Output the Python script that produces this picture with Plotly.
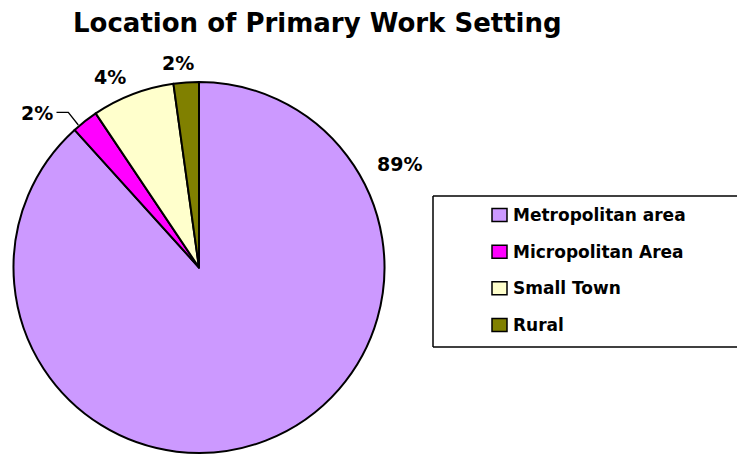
import plotly.graph_objects as go

# ---- data ----
categories = ["Metropolitan area", "Micropolitan Area", "Small Town", "Rural"]
slice_values = [88.3, 2.3, 7.2, 2.2]          # slice sizes as drawn
label_texts = ["89%", "2%", "4%", "2%"]        # percentage labels as printed
colors = ["#CC99FF", "#FF00FF", "#FFFFCC", "#808000"]
title_text = "Location of Primary Work Setting"

W, H = 737, 455
FONT = "DejaVu Sans"


def px(x):
    return x / W


def py(y):
    return 1 - y / H


fig = go.Figure()
fig.add_trace(go.Pie(
    labels=categories,
    values=slice_values,
    sort=False,
    direction="clockwise",
    rotation=0,
    marker=dict(colors=colors, line=dict(color="black", width=2)),
    textinfo="none",
    hoverinfo="label+percent",
    showlegend=False,
    domain=dict(x=[px(13.5), px(384.5)], y=[py(453), py(82)]),
))

annotations = []
shapes = []

# title
annotations.append(dict(text="<b>" + title_text + "</b>", x=px(317.5), y=py(23),
                        xref="paper", yref="paper", showarrow=False,
                        xanchor="center", yanchor="middle",
                        font=dict(family=FONT, size=26, color="black")))

# slice labels
label_pos = [(399, 164), (37, 113), (110, 77), (178, 63)]
for txt, (lx, ly) in zip(label_texts, label_pos):
    annotations.append(dict(text="<b>" + txt + "</b>", x=px(lx), y=py(ly),
                            xref="paper", yref="paper", showarrow=False,
                            xanchor="center", yanchor="middle",
                            font=dict(family=FONT, size=19, color="black")))

# leader line for the small Micropolitan label
shapes.append(dict(type="path", xref="paper", yref="paper",
                   path=f"M {px(56.5)} {py(112.3)} L {px(68.3)} {py(112.3)} L {px(78.3)} {py(125)}",
                   line=dict(color="black", width=1.3)))

# legend box (right edge runs off the picture): three separate sides
box_l, box_r, box_t, box_b = 433, 737, 196, 347
for x0, y0, x1, y1 in [(box_l, box_t, box_r, box_t),
                       (box_l, box_b, box_r, box_b),
                       (box_l, box_t, box_l, box_b)]:
    shapes.append(dict(type="line", xref="paper", yref="paper",
                       x0=px(x0), y0=py(y0), x1=px(x1), y1=py(y1),
                       line=dict(color="black", width=1.5)))
row_y = [215, 251.7, 288.3, 325]
for cat, col, ry in zip(categories, colors, row_y):
    shapes.append(dict(type="rect", xref="paper", yref="paper",
                       x0=px(492), x1=px(507), y0=py(ry + 6.5), y1=py(ry - 6.5),
                       line=dict(color="black", width=1.5), fillcolor=col))
    annotations.append(dict(text="<b>" + cat + "</b>", x=px(511), y=py(ry),
                            xref="paper", yref="paper", showarrow=False,
                            xanchor="left", yanchor="middle",
                            font=dict(family=FONT, size=17, color="black")))

fig.update_layout(
    width=W, height=H,
    margin=dict(l=0, r=0, t=0, b=0),
    paper_bgcolor="white", plot_bgcolor="white",
    annotations=annotations, shapes=shapes,
    showlegend=False,
)

fig.write_html(
    "out.html",
    config={"displayModeBar": False},
    post_script="document.body.style.margin='0';document.body.style.overflow='hidden';",
)
